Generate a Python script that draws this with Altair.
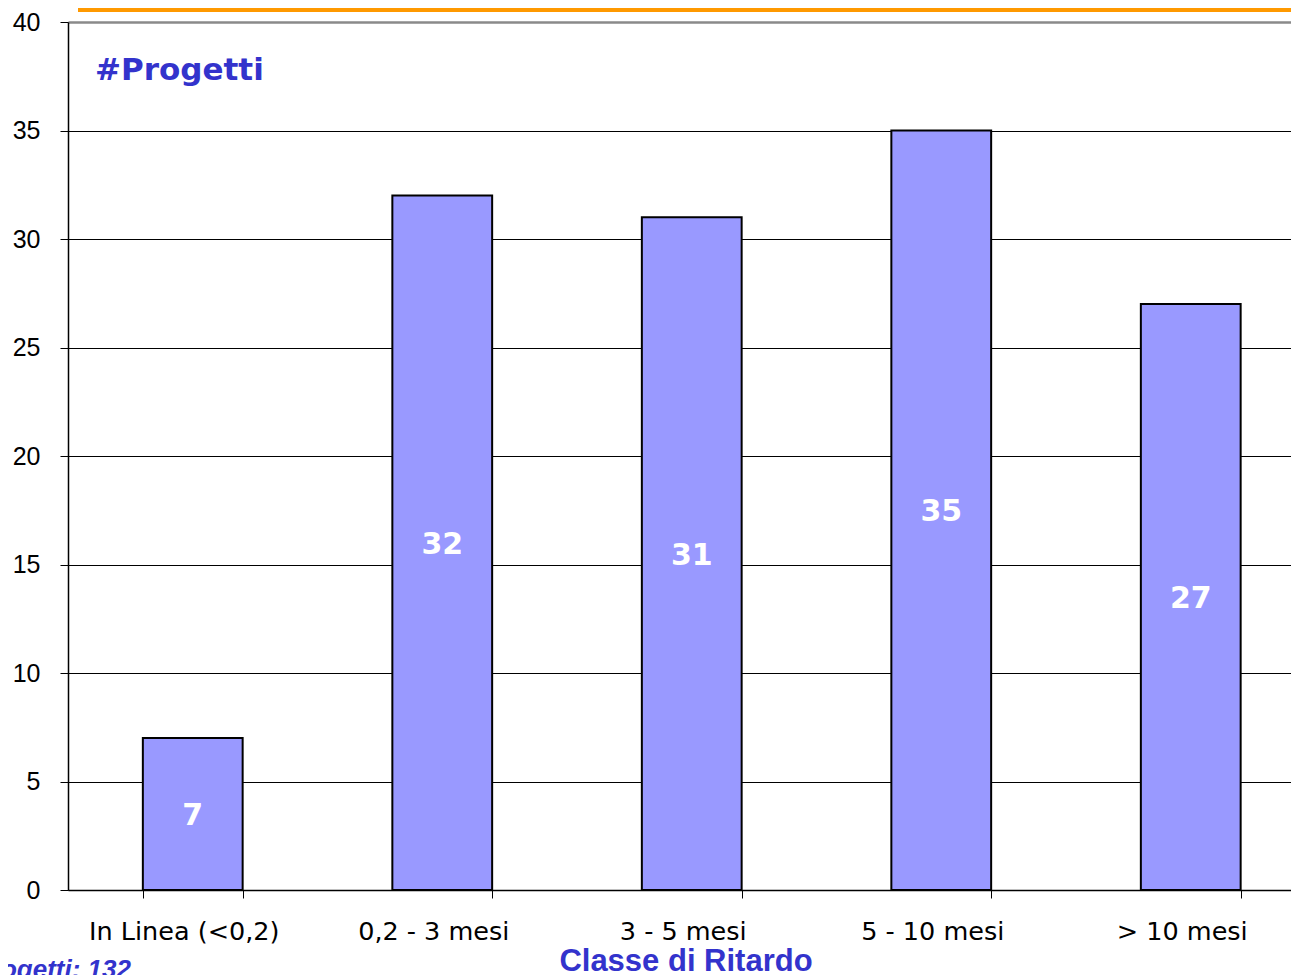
import altair as alt
import pandas as pd

categories = ["In Linea (<0,2)", "0,2 - 3 mesi", "3 - 5 mesi", "5 - 10 mesi", "> 10 mesi"]
values = [7, 32, 31, 35, 27]
y_ticks = [0, 5, 10, 15, 20, 25, 30, 35, 40]

df = pd.DataFrame({"cat": categories, "val": values})

W = 1223
H = 868
BLUE = "#3333CC"

x_enc = alt.X(
    "cat:N",
    sort=categories,
    scale=alt.Scale(range=[0, 1247.5], paddingInner=0.6, paddingOuter=0.3),
    axis=alt.Axis(
        title=None,
        labelAngle=0,
        tickBand="extent",
        tickSize=8,
        tickColor="black",
        domainColor="black",
        domainWidth=1.5,
        labelFont="DejaVu Sans",
        labelFontSize=25.5,
        labelColor="black",
        labelPadding=21,
        labelLimit=400,
        labelOffset=-9,
        grid=False,
    ),
)
y_enc = alt.Y(
    "val:Q",
    scale=alt.Scale(domain=[0, 40], nice=False),
    axis=alt.Axis(
        title=None,
        values=y_ticks,
        tickSize=8,
        tickColor="black",
        domainColor="black",
        domainWidth=1.5,
        labelFont="Liberation Sans",
        labelFontSize=25,
        labelColor="black",
        labelPadding=20,
        grid=True,
        gridColor={"condition": {"test": "datum.value === 40", "value": "#8a8a8a"}, "value": "black"},
        gridWidth={"condition": {"test": "datum.value === 40", "value": 2.5}, "value": 1},
        gridOpacity=1,
    ),
)

base = alt.Chart(df)

bars = base.mark_bar(fill="#9999FF", stroke="black", strokeWidth=2).encode(x=x_enc, y=y_enc)

labels = base.transform_calculate(mid="datum.val / 2").mark_text(
    font="DejaVu Sans", fontWeight="bold", fontSize=30, color="white", baseline="middle", dy=2
).encode(
    x=alt.X("cat:N", sort=categories),
    y=alt.Y("mid:Q"),
    text=alt.Text("val:Q"),
)

orange = alt.Chart(pd.DataFrame({"a": [0]})).mark_rule(color="#FF9900", strokeWidth=4).encode(
    x=alt.value(10), x2=alt.value(W + 20), y=alt.value(-12)
)

title_top = alt.Chart(pd.DataFrame({"t": ["#Progetti"]})).mark_text(
    font="DejaVu Sans", fontWeight="bold", fontSize=31, color=BLUE, align="left", baseline="alphabetic"
).encode(x=alt.value(27), y=alt.value(58), text="t:N")

x_title = alt.Chart(pd.DataFrame({"t": ["Classe di Ritardo"]})).mark_text(
    font="Liberation Sans", fontWeight="bold", fontSize=31, color=BLUE, align="center", baseline="alphabetic"
).encode(x=alt.value(618), y=alt.value(949), text="t:N")

total = alt.Chart(pd.DataFrame({"t": ["Totale Progetti: 132"]})).mark_text(
    font="Liberation Sans", fontWeight="bold", fontStyle="italic", fontSize=26, color=BLUE,
    align="right", baseline="alphabetic"
).encode(x=alt.value(63), y=alt.value(956), text="t:N")

chart = alt.layer(bars, labels, orange, title_top, x_title, total).properties(
    width=W,
    height=H,
    autosize=alt.AutoSizeParams(type="none"),
    padding={"left": 60, "top": 14, "right": 0, "bottom": 85},
).configure_view(stroke=None).configure(background="white")

chart.save("out.html", embed_options={"renderer": "svg", "actions": False})
